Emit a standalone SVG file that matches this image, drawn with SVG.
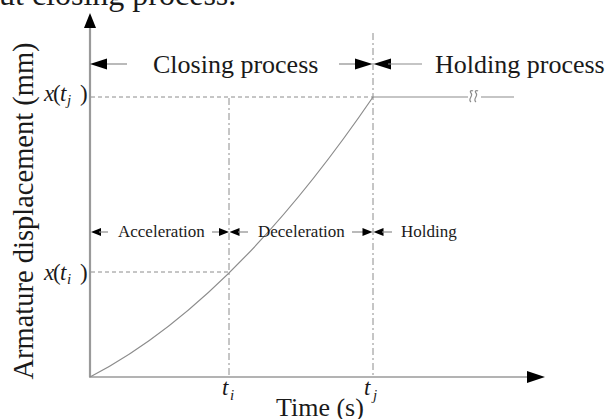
<svg xmlns="http://www.w3.org/2000/svg" width="605" height="419" viewBox="0 0 605 419">
<style>
.t{font-family:"Liberation Serif","Times New Roman",serif;fill:#1a1a1a}
.it{font-style:italic}
.ax{stroke:#9a9a9a;fill:none}
.dash{stroke:#8c8c8c;stroke-width:1;stroke-dasharray:4 3;fill:none}
.dd{stroke:#8c8c8c;stroke-width:1;stroke-dasharray:7 3 2 3;fill:none}
.ln{stroke:#8c8c8c;stroke-width:1.2;fill:none}
.ah{fill:#000}
</style>
<rect width="605" height="419" fill="#fff"/>
<text class="t" x="-17" y="5" font-size="32">out closing process.</text>

<g id="axes">
<line class="ax" x1="90" y1="26" x2="90" y2="377" stroke-width="2.2"/>
<polygon class="ah" points="90,13 84,28 96,28"/>
<line class="ax" x1="89" y1="377" x2="530" y2="377" stroke-width="1.5"/>
<polygon class="ah" points="545,377 527,371 527,383"/>
<text class="t" x="0" y="0" font-size="28.5" text-anchor="middle" transform="translate(33,211) rotate(-90)">Armature displacement (mm)</text>
<text class="t" x="276" y="416" font-size="26">Time (s)</text>
</g>

<g id="guides">
<line class="dash" x1="91" y1="97" x2="373" y2="97"/>
<line class="dash" x1="91" y1="272" x2="229" y2="272"/>
<line class="dd" x1="229" y1="98" x2="229" y2="376"/>
<line class="dd" x1="373" y1="33" x2="373" y2="376"/>
<line class="ln" x1="373" y1="97" x2="468" y2="97"/>
<path class="ln" d="M471,102 C467,99 474,96 471,93 C469,91 472,90 473,91 M476,102 C472,99 479,96 476,93 C474,91 477,90 478,91" stroke-width="1.1"/>
<line class="ln" x1="481" y1="97" x2="514" y2="97"/>
</g>

<g id="curve">
<path class="ln" d="M90,377 Q231.5,304 373,97"/>
</g>

<g id="labels">
<text class="t" font-size="23" y="101"><tspan class="it" x="44">x</tspan><tspan x="53">(</tspan><tspan class="it" x="60">t</tspan><tspan class="it" x="67" y="105" font-size="15">j</tspan><tspan x="80" y="101">)</tspan></text>
<text class="t" font-size="23" y="280"><tspan class="it" x="44">x</tspan><tspan x="53">(</tspan><tspan class="it" x="60">t</tspan><tspan class="it" x="67" y="284" font-size="15">i</tspan><tspan x="80" y="280">)</tspan></text>
<text class="t" font-size="23" y="395"><tspan class="it" x="222">t</tspan><tspan class="it" x="230" y="400" font-size="15">i</tspan></text>
<text class="t" font-size="23" y="395"><tspan class="it" x="364">t</tspan><tspan class="it" x="373" y="400" font-size="15">j</tspan></text>
</g>

<g id="closing">
<line class="ln" x1="104" y1="64" x2="127" y2="64" stroke-width="1.4"/>
<polygon class="ah" points="90,64 107,58.5 107,69.5"/>
<text class="t" x="153" y="73" font-size="26">Closing process</text>
<line class="ln" x1="339" y1="64" x2="358" y2="64" stroke-width="1.4"/>
<polygon class="ah" points="372.5,64 355,58.5 355,69.5"/>
</g>

<g id="holding">
<polygon class="ah" points="373.5,64 391,58.5 391,69.5"/>
<line class="ln" x1="388" y1="64" x2="422" y2="64" stroke-width="1.4"/>
<text class="t" x="435" y="73" font-size="26">Holding process</text>
</g>

<g id="acceleration">
<polygon class="ah" points="91,232 101,228 101,236"/>
<line class="ln" x1="99" y1="232" x2="108" y2="232"/>
<text class="t" x="118" y="237" font-size="17">Acceleration</text>
<line class="ln" x1="212" y1="232" x2="222" y2="232"/>
<polygon class="ah" points="229,232 219,228 219,236"/>
</g>

<g id="deceleration">
<polygon class="ah" points="229.5,232 239.5,228 239.5,236"/>
<line class="ln" x1="238" y1="232" x2="248" y2="232"/>
<text class="t" x="258" y="237" font-size="17">Deceleration</text>
<line class="ln" x1="352" y1="232" x2="364" y2="232"/>
<polygon class="ah" points="372.5,232 362.5,228 362.5,236"/>
</g>

<g id="holding-phase">
<polygon class="ah" points="373.5,232 383.5,228 383.5,236"/>
<line class="ln" x1="382" y1="232" x2="392" y2="232"/>
<text class="t" x="401" y="237" font-size="17">Holding</text>
</g>
</svg>
